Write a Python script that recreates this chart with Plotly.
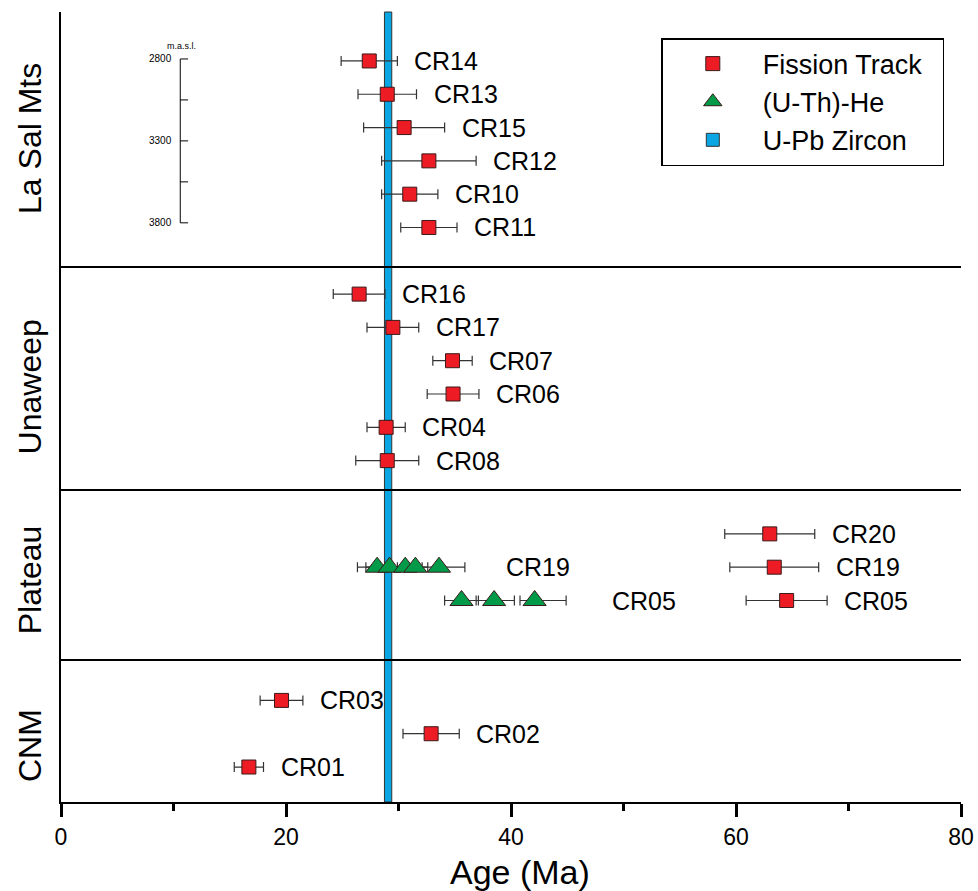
import plotly.graph_objects as go

# ---------------- data ----------------
ft_samples = ["CR14", "CR13", "CR15", "CR12", "CR10", "CR11",
              "CR16", "CR17", "CR07", "CR06", "CR04", "CR08",
              "CR20", "CR19", "CR05",
              "CR03", "CR02", "CR01"]
ft_row = [1, 2, 3, 4, 5, 6,
          8, 9, 10, 11, 12, 13,
          15.2, 16.2, 17.2,
          20.2, 21.2, 22.2]
ft_age = [27.4, 29.0, 30.5, 32.7, 31.0, 32.7,
          26.5, 29.5, 34.8, 34.85, 28.9, 29.0,
          63.0, 63.4, 64.5,
          19.6, 32.9, 16.7]
ft_err = [2.5, 2.6, 3.6, 4.2, 2.5, 2.5,
          2.3, 2.3, 1.75, 2.3, 1.7, 2.8,
          4.0, 3.95, 3.6,
          1.9, 2.5, 1.3]

he_row = [16.2, 16.2, 16.2, 16.2, 16.2, 17.2, 17.2, 17.2]
he_age = [28.1, 29.2, 30.6, 31.5, 33.6, 35.6, 38.5, 42.1]
he_err_minus = [1.75, 2.1, 1.5, 1.1, 2.0, 1.5, 1.6, 1.3]
he_err_plus = [1.8, 1.7, 1.5, 1.1, 2.3, 1.5, 1.8, 2.8]
he_labels = ["CR19", "CR05"]
he_label_row = [16.2, 17.2]
he_label_age = [39.4, 48.8]

upb_min, upb_max = 28.75, 29.4

sections = ["La Sal Mts", "Unaweep", "Plateau", "CNM"]
section_label_row = [3.34, 10.8, 16.59, 21.57]
section_bounds = [7.19, 13.88, 18.99]

elev_ticks = [2800, 3050, 3300, 3550, 3800]
elev_labels = [2800, 3300, 3800]

x_ticks = [0, 20, 40, 60, 80]

# ---------------- styles ----------------
FONT = "Liberation Sans, Arial, Helvetica, sans-serif"
RED = "#ed1c24"
GREEN = "#009a49"
BLUE = "#0aa5e3"
EDGE = "#3a1a1a"


def elev_to_row(e):
    return 0.94 + (e - 2800) / 1000 * 4.92


fig = go.Figure()

# legend-only trace for the U-Pb band
fig.add_trace(go.Scatter(
    x=[None], y=[None], mode="markers", name="U-Pb Zircon",
    marker=dict(symbol="square", size=13, color=BLUE,
                line=dict(color="#333333", width=1)),
    legendgroup="c", legendrank=3))

fig.add_trace(go.Scatter(
    x=he_age, y=he_row, mode="markers", name="(U-Th)-He",
    marker=dict(symbol="triangle-up", size=20, color=GREEN,
                line=dict(color=EDGE, width=1)),
    error_x=dict(type="data", symmetric=False, array=he_err_plus,
                 arrayminus=he_err_minus, color="#333333",
                 thickness=1.2, width=5),
    legendgroup="b", legendrank=2))

fig.add_trace(go.Scatter(
    x=ft_age, y=ft_row, mode="markers", name="Fission Track&nbsp;&nbsp;",
    marker=dict(symbol="square", size=14, color=RED,
                line=dict(color=EDGE, width=1)),
    error_x=dict(type="data", array=ft_err, color="#333333",
                 thickness=1.2, width=5),
    legendgroup="a", legendrank=1))

shapes = []
# U-Pb zircon band
shapes.append(dict(type="rect", xref="x", yref="paper", x0=upb_min, x1=upb_max,
                   y0=0, y1=1, fillcolor=BLUE,
                   line=dict(color="#333333", width=1), layer="below"))
# section separators
for b in section_bounds:
    shapes.append(dict(type="line", xref="x", yref="y", x0=0, x1=80, y0=b, y1=b,
                       line=dict(color="black", width=2)))
# elevation scale bar
shapes.append(dict(type="line", xref="x", yref="y", x0=10.6, x1=10.6,
                   y0=elev_to_row(elev_ticks[0]), y1=elev_to_row(elev_ticks[-1]),
                   line=dict(color="black", width=1)))
for e in elev_ticks:
    r = elev_to_row(e)
    shapes.append(dict(type="line", xref="x", yref="y", x0=10.6, x1=11.3,
                       y0=r, y1=r, line=dict(color="black", width=1)))

annotations = []
for s, a, e, r in zip(ft_samples, ft_age, ft_err, ft_row):
    annotations.append(dict(x=a + e, y=r, xref="x", yref="y", text=s,
                            showarrow=False, xanchor="left", yanchor="middle",
                            xshift=15, font=dict(size=25, color="black", family=FONT)))
for s, a, r in zip(he_labels, he_label_age, he_label_row):
    annotations.append(dict(x=a, y=r, xref="x", yref="y", text=s,
                            showarrow=False, xanchor="left", yanchor="middle",
                            font=dict(size=25, color="black", family=FONT)))
for s, r in zip(sections, section_label_row):
    annotations.append(dict(x=-0.0344, y=r, xref="paper", yref="y", text=s,
                            showarrow=False, textangle=-90, xanchor="center",
                            yanchor="middle",
                            font=dict(size=32, color="black", family=FONT)))
for e in elev_labels:
    annotations.append(dict(x=10.6, y=elev_to_row(e), xref="x", yref="y",
                            text=str(e), showarrow=False, xanchor="right",
                            yanchor="middle", xshift=-6,
                            font=dict(size=10, color="black", family=FONT)))
annotations.append(dict(x=10.75, y=elev_to_row(2800), xref="x", yref="y",
                        text="m.a.s.l.", showarrow=False, xanchor="center",
                        yanchor="bottom", yshift=6,
                        font=dict(size=9, color="black", family=FONT)))
# x axis title
annotations.append(dict(x=0.51, y=-0.0886, xref="paper", yref="paper",
                        text="Age (Ma)", showarrow=False, xanchor="center",
                        yanchor="middle",
                        font=dict(size=34, color="black", family=FONT)))

fig.update_layout(
    width=978, height=891,
    margin=dict(l=61, r=17, t=12, b=89, autoexpand=False),
    paper_bgcolor="white", plot_bgcolor="white",
    font=dict(family=FONT, color="black"),
    showlegend=True,
    legend=dict(x=0.667, y=0.967, xanchor="left", yanchor="top",
                bordercolor="black", borderwidth=1.5, bgcolor="white",
                font=dict(size=27, family=FONT, color="black"),
                tracegroupgap=7, itemwidth=90, traceorder="normal"),
    shapes=shapes,
    annotations=annotations,
    xaxis=dict(range=[0, 80], tickvals=x_ticks, ticks="outside", ticklen=13,
               tickwidth=2.5, tickcolor="black", showline=True, linewidth=2,
               linecolor="black", showgrid=False, zeroline=False,
               automargin=False,
               tickfont=dict(size=23, family=FONT, color="black"),
               minor=dict(dtick=10, ticks="outside", ticklen=7, tickwidth=2.5,
                          tickcolor="black", showgrid=False)),
    yaxis=dict(range=[23.25, -0.47], showline=True, linewidth=2, linecolor="black",
               automargin=False,
               showticklabels=False, ticks="", showgrid=False, zeroline=False),
)

# remove the default page margin so the 978x891 figure fills the window exactly
fig.write_html("out.html",
               config={"displayModeBar": False},
               post_script="document.body.style.margin='0';"
                           "document.body.style.overflow='hidden';")
